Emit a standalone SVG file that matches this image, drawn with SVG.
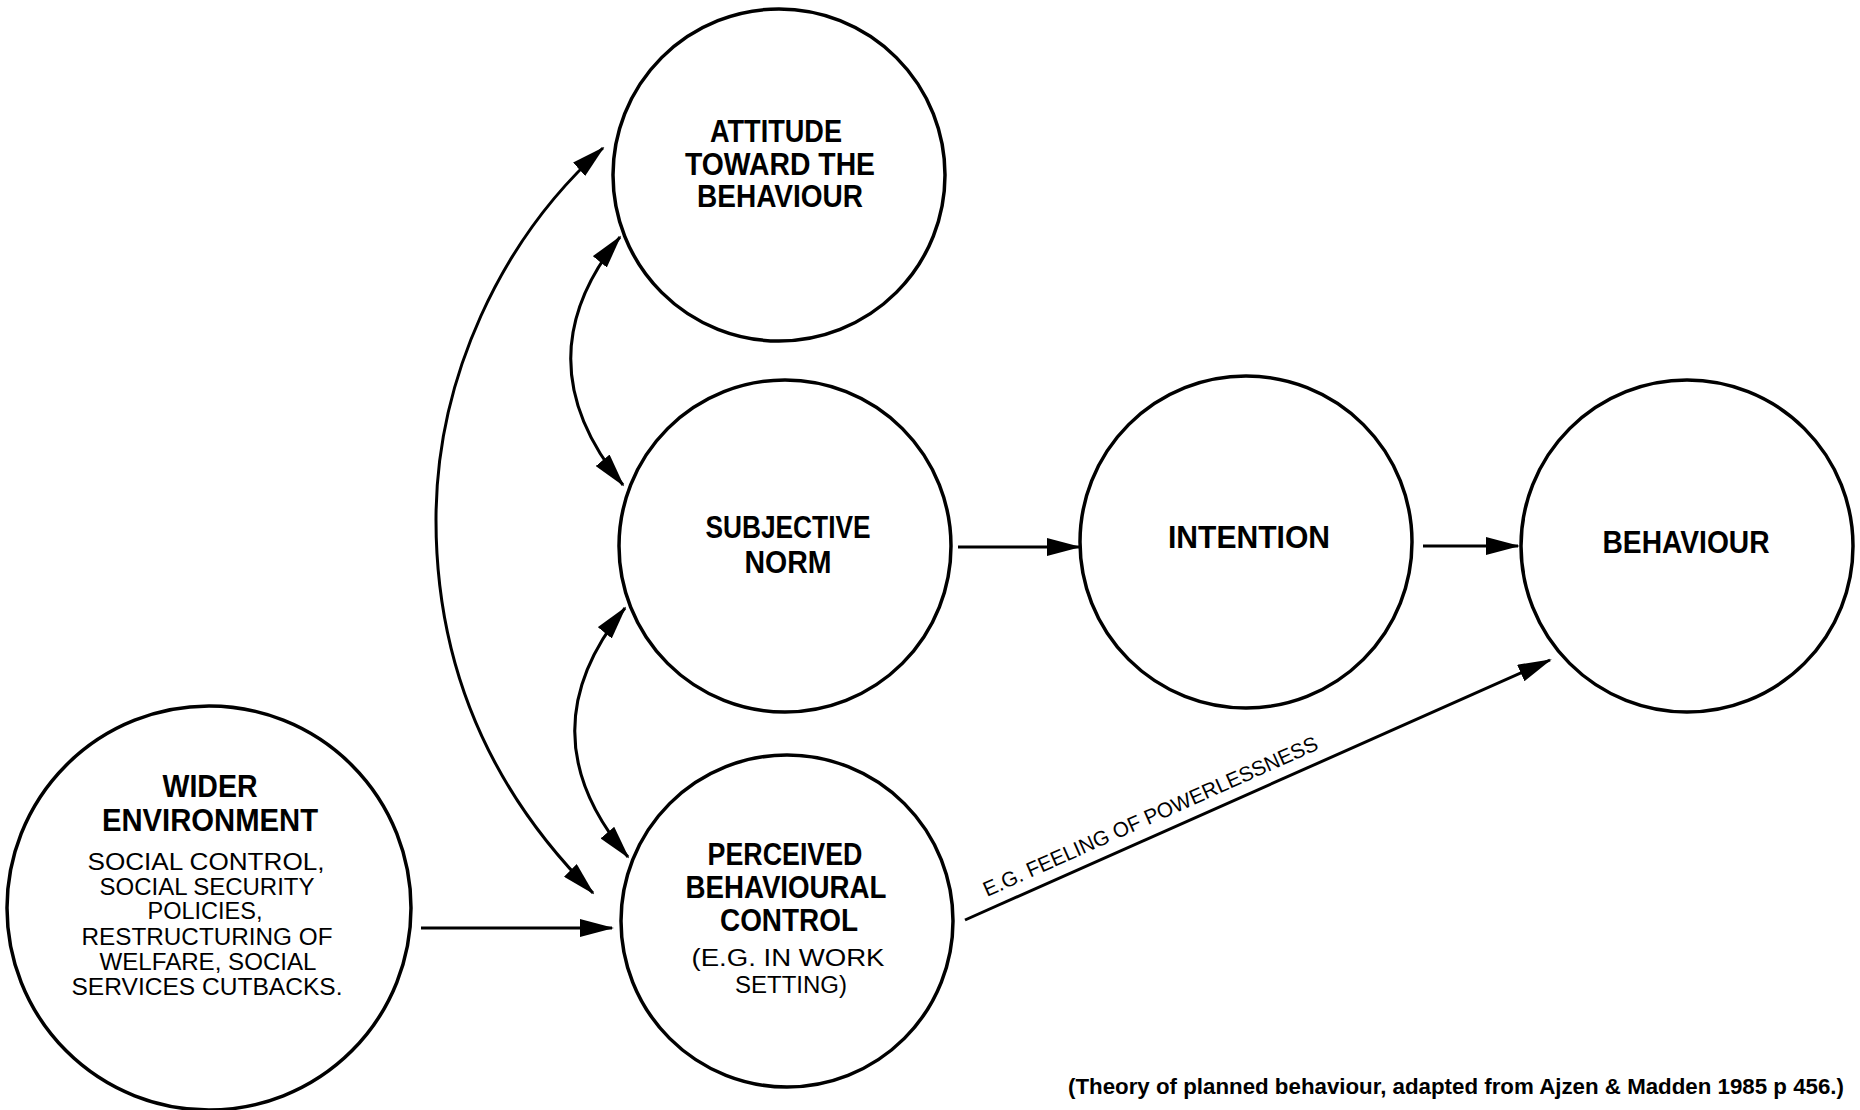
<svg xmlns="http://www.w3.org/2000/svg" width="1860" height="1110" viewBox="0 0 1860 1110">
<defs>
<style>
.node{fill:#fff;stroke:#000;stroke-width:3.5}
.t{font-family:"Liberation Sans",Arial,sans-serif;font-weight:bold;font-size:31px;fill:#000;text-anchor:middle}
.r{font-family:"Liberation Sans",Arial,sans-serif;font-size:23px;fill:#000;text-anchor:middle}
.lbl{font-family:"Liberation Sans",Arial,sans-serif;font-size:21px;fill:#000}
.cap{font-family:"Liberation Sans",Arial,sans-serif;font-weight:bold;font-size:22px;fill:#000}
.c{fill:none;stroke:#000;stroke-width:3}
</style>
<marker id="ah" viewBox="0 0 34 18" markerWidth="34" markerHeight="18" markerUnits="userSpaceOnUse" refX="32" refY="9" orient="auto-start-reverse">
<path d="M0,0 L34,9 L0,18 z" fill="#000"/>
</marker>
</defs>
<rect width="1860" height="1110" fill="#fff"/>

<g id="connectors">
<path class="c" d="M603 148 C500 240,436 380,436 520 C436 680,500 800,593 893" marker-start="url(#ah)" marker-end="url(#ah)"/>
<path class="c" d="M620 237 Q520 360 623 485" marker-start="url(#ah)" marker-end="url(#ah)"/>
<path class="c" d="M625 608 Q523 733 628 857" marker-start="url(#ah)" marker-end="url(#ah)"/>
<path class="c" d="M958 547 L1079 547" marker-end="url(#ah)"/>
<path class="c" d="M1423 546 L1518 546" marker-end="url(#ah)"/>
<path class="c" d="M421 928 L612 928" marker-end="url(#ah)"/>
<path class="c" d="M965 920 L1550 660" marker-end="url(#ah)"/>
<text class="lbl" transform="translate(987 897) rotate(-24)" textLength="364" lengthAdjust="spacingAndGlyphs">E.G. FEELING OF POWERLESSNESS</text>
</g>

<g id="attitude">
<circle class="node" cx="779" cy="175" r="166"/>
<text class="t" x="776" y="142" textLength="132" lengthAdjust="spacingAndGlyphs">ATTITUDE</text>
<text class="t" x="780" y="175" textLength="190" lengthAdjust="spacingAndGlyphs">TOWARD THE</text>
<text class="t" x="780" y="207" textLength="166" lengthAdjust="spacingAndGlyphs">BEHAVIOUR</text>
</g>

<g id="subjective-norm">
<circle class="node" cx="785" cy="546" r="166"/>
<text class="t" x="788" y="538" textLength="165" lengthAdjust="spacingAndGlyphs">SUBJECTIVE</text>
<text class="t" x="788" y="573" textLength="87" lengthAdjust="spacingAndGlyphs">NORM</text>
</g>

<g id="intention">
<circle class="node" cx="1246" cy="542" r="166"/>
<text class="t" x="1249" y="548" textLength="162" lengthAdjust="spacingAndGlyphs">INTENTION</text>
</g>

<g id="behaviour">
<circle class="node" cx="1687" cy="546" r="166"/>
<text class="t" x="1686" y="553" textLength="167" lengthAdjust="spacingAndGlyphs">BEHAVIOUR</text>
</g>

<g id="perceived-control">
<circle class="node" cx="787" cy="921" r="166"/>
<text class="t" x="785" y="865" textLength="155" lengthAdjust="spacingAndGlyphs">PERCEIVED</text>
<text class="t" x="786" y="898" textLength="201" lengthAdjust="spacingAndGlyphs">BEHAVIOURAL</text>
<text class="t" x="789" y="931" textLength="138" lengthAdjust="spacingAndGlyphs">CONTROL</text>
<text class="r" x="788" y="966" textLength="193" lengthAdjust="spacingAndGlyphs">(E.G. IN WORK</text>
<text class="r" x="791" y="993" textLength="112" lengthAdjust="spacingAndGlyphs">SETTING)</text>
</g>

<g id="wider-environment">
<circle class="node" cx="209" cy="908" r="202"/>
<text class="t" x="210" y="797" textLength="95" lengthAdjust="spacingAndGlyphs">WIDER</text>
<text class="t" x="210" y="831" textLength="216" lengthAdjust="spacingAndGlyphs">ENVIRONMENT</text>
<text class="r" x="206" y="870" textLength="237" lengthAdjust="spacingAndGlyphs">SOCIAL CONTROL,</text>
<text class="r" x="207" y="895" textLength="215" lengthAdjust="spacingAndGlyphs">SOCIAL SECURITY</text>
<text class="r" x="205" y="919" textLength="115" lengthAdjust="spacingAndGlyphs">POLICIES,</text>
<text class="r" x="207" y="945" textLength="251" lengthAdjust="spacingAndGlyphs">RESTRUCTURING OF</text>
<text class="r" x="208" y="970" textLength="217" lengthAdjust="spacingAndGlyphs">WELFARE, SOCIAL</text>
<text class="r" x="207" y="995" textLength="271" lengthAdjust="spacingAndGlyphs">SERVICES CUTBACKS.</text>
</g>

<text class="cap" x="1068" y="1094" textLength="776" lengthAdjust="spacingAndGlyphs">(Theory of planned behaviour, adapted from Ajzen &amp; Madden 1985 p 456.)</text>
</svg>
